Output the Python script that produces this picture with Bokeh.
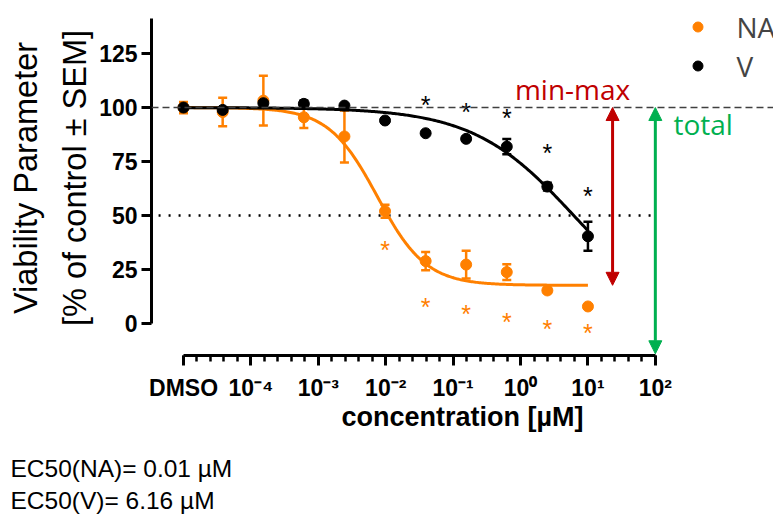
import numpy as np
from bokeh.plotting import figure
from bokeh.models import (ColumnDataSource, FixedTicker, Whisker, TeeHead, Arrow,
                          NormalHead, Label, Span, Legend, LegendItem, Range1d,
                          LinearAxis, Title)
from bokeh.embed import file_html
from bokeh.resources import INLINE
from bokeh.core.properties import value

# ---------------- data ----------------
CONC = [1e-5, 3.81e-5, 1.53e-4, 6.10e-4, 2.44e-3, 9.77e-3, 0.0391, 0.156, 0.625, 2.5, 10.0]  # first = DMSO
NA_MEAN = [100.0, 97.9, 103.2, 95.5, 86.6, 52.0, 28.9, 27.3, 23.8, 15.3, 7.9]
NA_SEM = [2.6, 6.6, 11.5, 5.0, 12.0, 3.0, 4.2, 6.4, 3.7, 1.2, 0.8]
V_MEAN = [100.0, 98.9, 102.0, 101.7, 100.9, 94.0, 88.1, 85.5, 81.9, 63.4, 40.4]
V_SEM = [1.0, 0.8, 1.0, 1.5, 0.5, 0.5, 0.5, 0.8, 3.5, 1.8, 6.7]

V_STAR_CONC = [0.0391, 0.156, 0.625, 2.5, 10.0]
V_STAR_Y = [103.5, 100.2, 97.4, 81.3, 61.2]
NA_STAR_CONC = [9.77e-3, 0.0391, 0.156, 0.625, 2.5, 10.0]
NA_STAR_Y = [36.4, 9.9, 6.8, 3.2, -0.1, -1.9]

# fitted 4-parameter logistic curves: top, bottom, EC50 [uM], hill slope
NA_FIT = dict(top=100.0, bottom=17.7, ec50=0.0075, hill=1.2)
V_FIT = dict(top=100.0, bottom=0.0, ec50=6.16, hill=0.58)

X_MAJOR = [1e-5, 1e-4, 1e-3, 1e-2, 1e-1, 1.0, 10.0, 100.0]
X_LABELS = ["DMSO", "10\u207b\u2074", "10\u207b\u00b3", "10\u207b\u00b2", "10\u207b\u00b9",
            "10\u2070", "10\u00b9", "10\u00b2"]
Y_TICKS = [0, 25, 50, 75, 100, 125]

TOP_LEVEL = 100.0
HALF_LEVEL = 50.0
MINMAX_ARROW_X = 23.2
TOTAL_ARROW_X = 100.0
TOTAL_ARROW_BOTTOM = -14.0

Y_TITLE = ["Viability Parameter", "[% of control \u00b1 SEM]"]
X_TITLE = "concentration [\u00b5M]"
EC50_TEXT = ["EC50(NA)= 0.01 \u00b5M", "EC50(V)= 6.16 \u00b5M"]

ORANGE = "#FF8000"
RED = "#C00000"
GREEN = "#00B050"
FONT = "Liberation Sans"

# ---------------- figure ----------------
p = figure(width=773, height=515, x_axis_type="log",
           x_range=Range1d(10 ** -5.475, 10 ** 3.753), y_range=Range1d(-14.8, 149.55),
           output_backend="svg", toolbar_location=None,
           min_border_left=151, min_border_right=0, min_border_top=0, min_border_bottom=160)
p.outline_line_color = None
p.xgrid.visible = False
p.ygrid.visible = False
p.background_fill_color = "white"

# axes
minor = [10 ** (-5 + 0.2 * k) for k in range(36)]
p.xaxis.ticker = FixedTicker(ticks=X_MAJOR, minor_ticks=minor)
p.xaxis.major_label_overrides = {t: l for t, l in zip(X_MAJOR, X_LABELS)}
p.xaxis.bounds = (X_MAJOR[0], X_MAJOR[-1])
p.xaxis.axis_label = X_TITLE
p.xaxis.axis_label_text_font = FONT
p.xaxis.axis_label_text_font_style = "bold"
p.xaxis.axis_label_text_font_size = "27px"
p.xaxis.axis_label_text_color = "black"
p.xaxis.axis_label_standoff = -2
p.xaxis.major_label_standoff = 9
p.xaxis.major_tick_out = 10
p.xaxis.major_tick_in = 0
p.xaxis.minor_tick_out = 6
p.xaxis.minor_tick_in = 0
p.xaxis.minor_tick_line_width = 2.5

p.yaxis.ticker = FixedTicker(ticks=Y_TICKS, minor_ticks=[])
p.yaxis.bounds = (0, 141)
p.yaxis.major_label_standoff = 4
p.yaxis.major_tick_out = 10
p.yaxis.major_tick_in = 0
p.yaxis.minor_tick_out = 0

for ax in (p.xaxis, p.yaxis):
    ax.axis_line_width = 3
    ax.axis_line_color = "black"
    ax.major_tick_line_width = 3
    ax.major_tick_line_color = "black"
    ax.minor_tick_line_color = "black"
    ax.major_label_text_font = FONT
    ax.major_label_text_font_style = "bold"
    ax.major_label_text_font_size = "23px"
    ax.major_label_text_color = "black"

# two-line y title: two bare axes carrying only a label
for text, standoff in ((Y_TITLE[1], 4), (Y_TITLE[0], 10)):
    t_ax = LinearAxis(ticker=FixedTicker(ticks=[], minor_ticks=[]), bounds=(0, 145.4),
                      axis_line_color=None, major_tick_line_color=None,
                      minor_tick_line_color=None, major_tick_out=0, major_tick_in=0,
                      minor_tick_out=0, minor_tick_in=0, major_label_standoff=0,
                      major_label_text_font_size="0px",
                      axis_label=text, axis_label_standoff=standoff,
                      axis_label_text_font=FONT, axis_label_text_font_size="32.5px",
                      axis_label_text_font_style="normal", axis_label_text_color="black")
    p.add_layout(t_ax, "left")

# reference lines
p.add_layout(Span(location=TOP_LEVEL, dimension="width", line_color="#404040",
                  line_width=1.5, line_dash="7 4"))
p.line(x=[10 ** -5.37, TOTAL_ARROW_X], y=[HALF_LEVEL, HALF_LEVEL], line_color="black",
       line_width=2.5, line_dash="2 8")

# fitted curves
xs = np.logspace(-5, 1, 300)


def fourpl(x, top, bottom, ec50, hill):
    return bottom + (top - bottom) / (1.0 + (x / ec50) ** hill)


p.line(xs, fourpl(xs, **NA_FIT), line_color=ORANGE, line_width=3)

na_src = ColumnDataSource(dict(x=CONC, y=NA_MEAN,
                               lo=[m - s for m, s in zip(NA_MEAN, NA_SEM)],
                               hi=[m + s for m, s in zip(NA_MEAN, NA_SEM)]))
v_src = ColumnDataSource(dict(x=CONC, y=V_MEAN,
                              lo=[m - s for m, s in zip(V_MEAN, V_SEM)],
                              hi=[m + s for m, s in zip(V_MEAN, V_SEM)]))

for src, col in ((na_src, ORANGE), (v_src, "black")):
    p.add_layout(Whisker(source=src, base="x", lower="lo", upper="hi", dimension="height",
                         line_color=col, line_width=2.5,
                         lower_head=TeeHead(size=9, line_color=col, line_width=2.5),
                         upper_head=TeeHead(size=9, line_color=col, line_width=2.5)))

na_pts = p.scatter("x", "y", source=na_src, size=11, color=ORANGE)
p.line(xs, fourpl(xs, **V_FIT), line_color="black", line_width=3)
v_pts = p.scatter("x", "y", source=v_src, size=11, color="black")

# significance asterisks
for cx, cy, col in ((NA_STAR_CONC, NA_STAR_Y, ORANGE), (V_STAR_CONC, V_STAR_Y, "black")):
    s = ColumnDataSource(dict(x=cx, y=cy, t=["*"] * len(cx)))
    p.text("x", "y", text="t", source=s, text_color=col, text_font=value(FONT),
           text_font_size="25px", text_align="center", text_baseline="middle", y_offset=5)

# arrows
p.add_layout(Arrow(x_start=MINMAX_ARROW_X, y_start=TOP_LEVEL, x_end=MINMAX_ARROW_X,
                   y_end=NA_FIT["bottom"], line_color=RED, line_width=3,
                   start=NormalHead(size=13, fill_color=RED, line_color=RED),
                   end=NormalHead(size=13, fill_color=RED, line_color=RED)))
p.add_layout(Arrow(x_start=TOTAL_ARROW_X, y_start=TOP_LEVEL, x_end=TOTAL_ARROW_X,
                   y_end=TOTAL_ARROW_BOTTOM, line_color=GREEN, line_width=3,
                   start=NormalHead(size=13, fill_color=GREEN, line_color=GREEN),
                   end=NormalHead(size=13, fill_color=GREEN, line_color=GREEN)))

p.add_layout(Label(x=5.92, y=108.8, text="min-max", text_align="center",
                   text_baseline="alphabetic", text_font="Open Sans",
                   text_font_size="28px", text_color=RED))
p.add_layout(Label(x=186, y=92.3, text="total", text_align="left",
                   text_baseline="alphabetic", text_font="Open Sans",
                   text_font_size="28px", text_color=GREEN))

# EC50 notes below the axis: a thin spacer title, then one two-line title
p.add_layout(Title(text=" ", text_font_size="1px", standoff=15), "below")
p.add_layout(Title(text="\n".join(EC50_TEXT), align="left", offset=-141, standoff=0,
                   vertical_align="bottom", text_font=FONT, text_font_size="24.5px",
                   text_font_style="normal", text_line_height=1.22,
                   text_color="black"), "below")

# legend
legend = Legend(items=[LegendItem(label="NA", renderers=[na_pts]),
                       LegendItem(label="V", renderers=[v_pts])],
                location=(533.5, 270), padding=0, spacing=0, margin=0,
                glyph_width=25, glyph_height=39, label_height=39, label_standoff=27,
                label_text_font="Open Sans", label_text_font_size="28px",
                border_line_alpha=0, background_fill_alpha=0)
p.add_layout(legend)

open("out.html", "w").write(file_html(p, INLINE, title=""))
